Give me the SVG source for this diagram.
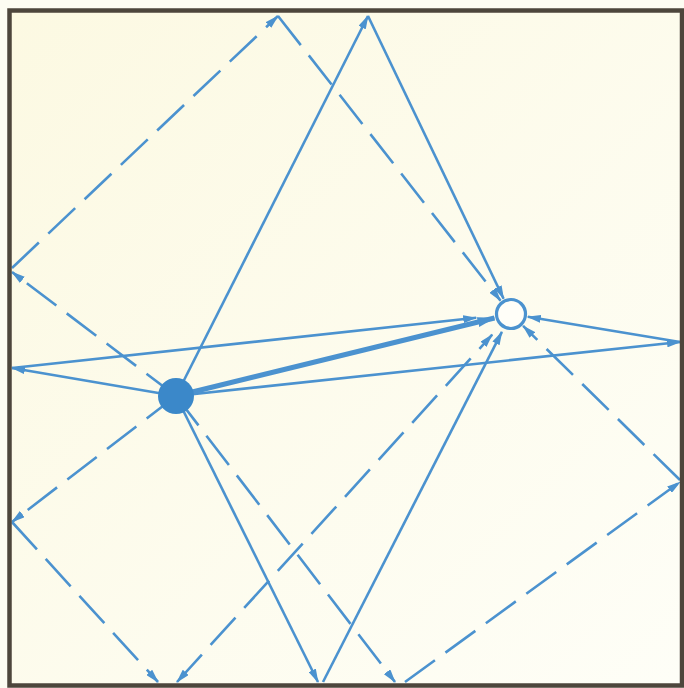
<svg xmlns="http://www.w3.org/2000/svg" width="684" height="688" viewBox="0 0 684 688">
  <defs>
    <linearGradient id="bg" x1="0" y1="0" x2="1" y2="1">
      <stop offset="0" stop-color="#fcf9e2"/>
      <stop offset="1" stop-color="#fefef7"/>
    </linearGradient>
    <marker id="arr" markerUnits="userSpaceOnUse" viewBox="0 0 14 8" refX="13" refY="4" markerWidth="14" markerHeight="8" orient="auto-start-reverse">
      <path d="M0,0 L14,4 L0,8 z" fill="#4b92cf"/>
    </marker>
    <marker id="arrBig" markerUnits="userSpaceOnUse" viewBox="0 0 18 10" refX="17" refY="5" markerWidth="18" markerHeight="10" orient="auto">
      <path d="M0,0 L18,5 L0,10 z" fill="#4b92cf"/>
    </marker>
  </defs>
  <style>
    .ln { fill: none; stroke: #4b92cf; stroke-width: 2.6; stroke-linecap: butt; }
    .sol { marker-end: url(#arr); }
    .dash { stroke-dasharray: 37 13; marker-end: url(#arr); }
    .thick { fill: none; stroke: #4b92cf; stroke-width: 5; marker-end: url(#arrBig); }
  </style>
  <rect x="0" y="0" width="684" height="688" fill="#fdfcf2"/>
  <rect x="9.5" y="10.5" width="672.5" height="675" fill="url(#bg)"/>

  <g id="connectors">
    <!-- solid paths -->
    <line class="ln sol" x1="176" y1="396" x2="368" y2="16"/>
    <line class="ln sol" x1="368" y1="16" x2="503.6" y2="298.7"/>
    <line class="ln sol" x1="176" y1="396" x2="12" y2="368"/>
    <line class="ln sol" x1="12" y1="368" x2="476.2" y2="317.8"/>
    <line class="ln sol" x1="176" y1="396" x2="680" y2="342"/>
    <line class="ln sol" x1="680" y1="342" x2="527.8" y2="316.8"/>
    <line class="ln sol" x1="176" y1="396" x2="318" y2="682"/>
    <line class="ln sol" x1="323" y1="682" x2="501.9" y2="331.8"/>
    <!-- dashed paths -->
    <line class="ln dash" x1="176" y1="396" x2="12" y2="272"/>
    <line class="ln dash" x1="12" y1="268" x2="278" y2="16"/>
    <line class="ln dash" x1="278" y1="16" x2="500.5" y2="300.6"/>
    <line class="ln dash" x1="176" y1="396" x2="12" y2="522"/>
    <line class="ln dash" x1="12" y1="522" x2="158" y2="682"/>
    <line class="ln dash" x1="177" y1="682" x2="492.2" y2="334.7" style="marker-start:url(#arr)"/>
    <line class="ln dash" x1="176" y1="396" x2="395" y2="682"/>
    <line class="ln dash" x1="405" y1="682" x2="680" y2="482"/>
    <line class="ln dash" x1="680" y1="480" x2="523.1" y2="325.9"/>
    <!-- direct path -->
    <line class="thick" x1="176" y1="396" x2="494.5" y2="318"/>
  </g>

  <g id="source">
    <circle cx="176" cy="396" r="18" fill="#3b88c9"/>
  </g>
  <g id="receiver">
    <circle cx="511" cy="314" r="14.5" fill="#fffef8" stroke="#4b92cf" stroke-width="3.2"/>
  </g>

  <g id="frame">
    <rect x="9.5" y="10.5" width="672.5" height="675" fill="none" stroke="#4d463c" stroke-width="4.5"/>
  </g>
</svg>
